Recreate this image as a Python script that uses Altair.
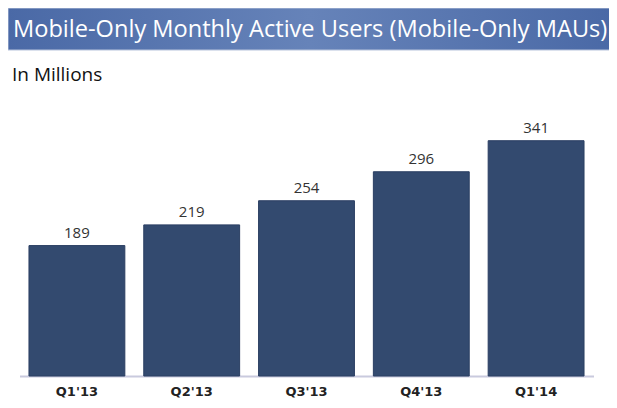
import altair as alt
import pandas as pd

quarters = ["Q1'13", "Q2'13", "Q3'13", "Q4'13", "Q1'14"]
maus = [189, 219, 254, 296, 341]
title_text = "Mobile-Only Monthly Active Users (Mobile-Only MAUs)"
subtitle_text = "In Millions"

df = pd.DataFrame({"quarter": quarters, "maus": maus})
base = alt.Chart(df)

x_enc = alt.X("quarter:N", sort=quarters, title=None,
              scale=alt.Scale(paddingInner=0.165, paddingOuter=0.0825),
              axis=alt.Axis(labelAngle=0, ticks=False, domainColor="#c9cade", domainWidth=2,
                            labelFont="DejaVu Sans", labelFontWeight="bold", labelFontSize=13,
                            labelColor="#222222", labelPadding=9))
y_enc = alt.Y("maus:Q", scale=alt.Scale(domain=[0, 397]), axis=None)

bars = base.mark_bar(color="#334a6f", stroke="#2a3e62", strokeWidth=1).encode(x=x_enc, y=y_enc)
labels = base.mark_text(dy=-13, font="Open Sans", fontSize=15, color="#333333").encode(
    x=alt.X("quarter:N", sort=quarters), y="maus:Q", text="maus:Q")

header_bg = alt.Chart(pd.DataFrame({"t": [title_text]})).mark_rect(
    color=alt.LinearGradient(gradient="linear", x1=0, x2=1, y1=0, y2=0,
                             stops=[alt.GradientStop(offset=0, color="#4a69a6"),
                                    alt.GradientStop(offset=0.5, color="#6683b9"),
                                    alt.GradientStop(offset=1, color="#4a69a6")]),
    stroke="#b8c4dc", strokeWidth=1
).encode(x=alt.value(-11.5), x2=alt.value(592.5), y=alt.value(-92), y2=alt.value(-50))

header_text = alt.Chart(pd.DataFrame({"t": [title_text]})).mark_text(
    align="left", baseline="alphabetic", font="Open Sans", fontSize=23.6, color="white"
).encode(x=alt.value(-6.5), y=alt.value(-63), text="t:N")

sub_text = alt.Chart(pd.DataFrame({"t": [subtitle_text]})).mark_text(
    align="left", baseline="alphabetic", font="Open Sans", fontSize=19, color="#111111"
).encode(x=alt.value(-7.5), y=alt.value(-19), text="t:N")

chart = alt.layer(bars, labels, header_bg, header_text, sub_text).properties(
    width=574, height=276,
    autosize=alt.AutoSizeParams(type="none"),
    padding={"left": 11.5, "top": 92, "right": 15, "bottom": 24},
    background="white"
).configure_view(stroke=None).configure_axis(grid=False)

chart.save("out.html", embed_options={"renderer": "svg", "actions": False})
